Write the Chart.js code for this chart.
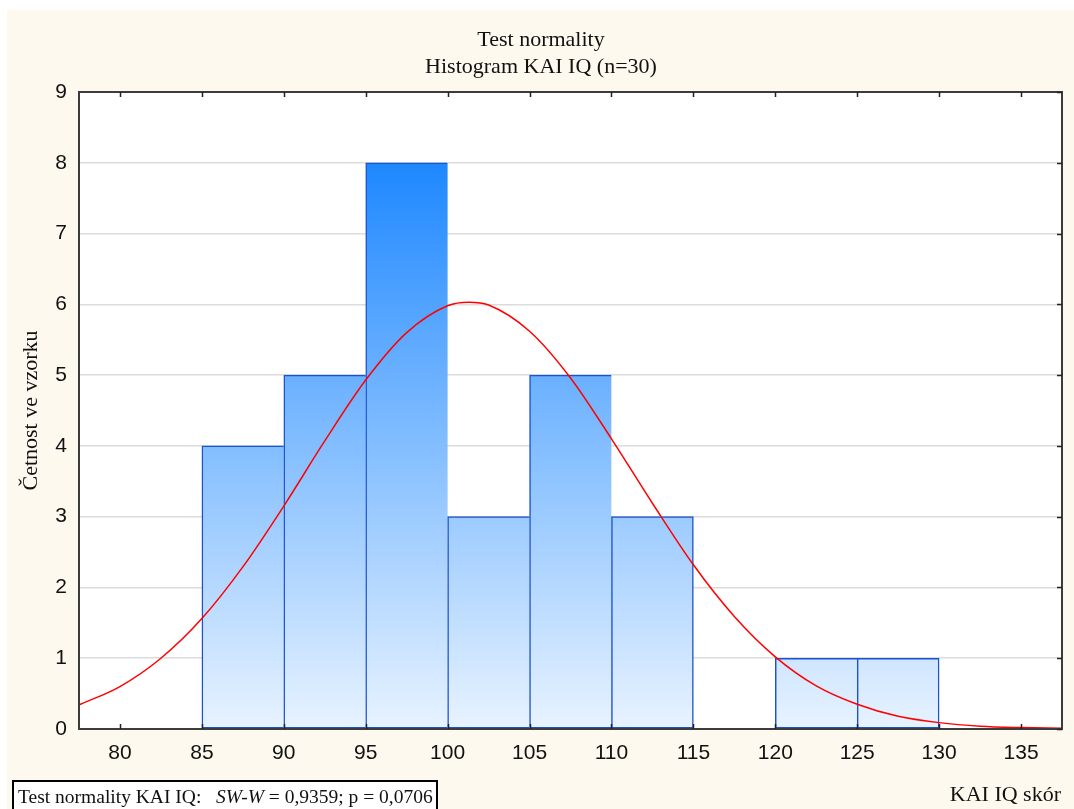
<!DOCTYPE html>
<html>
<head>
<meta charset="utf-8">
<script src="https://cdn.jsdelivr.net/npm/chart.js@4.4.1/dist/chart.umd.min.js"></script>
<style>
  html, body { margin: 0; padding: 0; background: #ffffff; }
  #wrap { width: 1074px; height: 809px; position: relative; }
</style>
</head>
<body>
<div id="wrap"><canvas id="hist" width="1074" height="809"></canvas></div>
<script>
// histogram bins (start of each 5-point bin) and counts
const binStart = [85, 90, 95, 100, 105, 110, 120, 125];
const counts = [4, 5, 8, 3, 5, 3, 1, 1];
const binWidth = 5;

// fitted normal curve
const curveX = [77.5, 80, 82.5, 85, 87.5, 90, 92.5, 95, 97.5, 100, 101.3, 102.5, 105, 107.5, 110,
                112.5, 115, 117.5, 120, 122.5, 125, 127.5, 130, 132.5, 135, 137.5];
const curveY = [0.34, 0.60, 1.00, 1.56, 2.29, 3.15, 4.07, 4.93, 5.60, 5.98, 6.03, 5.99, 5.62, 4.96, 4.10,
                3.19, 2.32, 1.59, 1.02, 0.61, 0.35, 0.18, 0.09, 0.04, 0.02, 0.01];

const xTicks = [80, 85, 90, 95, 100, 105, 110, 115, 120, 125, 130, 135];
const yTicks = [0, 1, 2, 3, 4, 5, 6, 7, 8, 9];

const titleLines = ['Test normality', 'Histogram KAI IQ (n=30)'];
const xTitle = 'KAI IQ skór';
const yTitle = 'Četnost ve vzorku';
const noteLabel = 'Test normality KAI IQ:   ';
const noteStat = 'SW-W';
const noteRest = ' = 0,9359; p = 0,0706';

const serif = '"Liberation Serif", "Times New Roman", serif';
const sans = '"Liberation Sans", Arial, sans-serif';

const barData = binStart.map((s, i) => ({ x: s + binWidth / 2, y: counts[i] }));
const lineData = curveX.map((x, i) => ({ x: x, y: curveY[i] }));

// cream page, frame, inner ticks, titles and the note box
const decor = {
    id: 'decor',
    beforeDraw(chart) {
        const c = chart.ctx;
        c.save();
        c.fillStyle = '#ffffff';
        c.fillRect(0, 0, chart.width, chart.height);
        c.fillStyle = '#fef9ef';
        c.fillRect(7, 10, chart.width - 7, chart.height - 10);
        const a = chart.chartArea;
        c.fillStyle = '#ffffff';
        c.fillRect(a.left, a.top, a.right - a.left, a.bottom - a.top);
        c.restore();
    },
    afterDraw(chart) {
        const c = chart.ctx;
        const a = chart.chartArea;
        const xs = chart.scales.x, ys = chart.scales.y;
        c.save();
        // frame
        c.strokeStyle = '#3c3c3c';
        c.lineWidth = 2;
        c.strokeRect(a.left, a.top, a.right - a.left, a.bottom - a.top);
        // inner tick marks
        c.lineWidth = 1.5;
        c.strokeStyle = '#222';
        c.beginPath();
        xTicks.forEach(v => {
            const px = Math.round(xs.getPixelForValue(v)) + 0.5;
            c.moveTo(px, a.bottom); c.lineTo(px, a.bottom - 5);
            c.moveTo(px, a.top); c.lineTo(px, a.top + 5);
        });
        yTicks.forEach(v => {
            const py = Math.round(ys.getPixelForValue(v)) + 0.5;
            c.moveTo(a.right, py); c.lineTo(a.right - 5, py);
        });
        c.stroke();

        // titles
        c.fillStyle = '#111';
        c.textAlign = 'center';
        c.textBaseline = 'alphabetic';
        c.font = '22px ' + serif;
        c.fillText(titleLines[0], 541, 46);
        c.fillText(titleLines[1], 541, 73);

        // axis titles
        c.textAlign = 'right';
        c.fillText(xTitle, 1061, 801);
        c.save();
        c.translate(37, (a.top + a.bottom) / 2);
        c.rotate(-Math.PI / 2);
        c.textAlign = 'center';
        c.fillText(yTitle, 0, 0);
        c.restore();

        // note box
        c.fillStyle = '#ffffff';
        c.fillRect(13, 781, 424, 30);
        c.strokeStyle = '#000';
        c.lineWidth = 2;
        c.strokeRect(13, 781, 424, 30);
        c.fillStyle = '#111';
        c.textAlign = 'left';
        c.font = '19.5px ' + serif;
        let tx = 18;
        c.fillText(noteLabel, tx, 803);
        tx += c.measureText(noteLabel).width;
        c.font = 'italic 19.5px ' + serif;
        c.fillText(noteStat, tx, 803);
        tx += c.measureText(noteStat).width;
        c.font = '19.5px ' + serif;
        c.fillText(noteRest, tx, 803);
        c.restore();
    }
};

function barGradient(context) {
    const chart = context.chart;
    if (!chart.chartArea) return '#80bfff';
    const ys = chart.scales.y;
    const g = chart.ctx.createLinearGradient(0, ys.getPixelForValue(0), 0, ys.getPixelForValue(8));
    g.addColorStop(0, '#e8f3ff');
    g.addColorStop(1, '#1e88ff');
    return g;
}

// skip the right edge when the next bin sits right against this one, so shared edges are one line
function barBorder(context) {
    const i = context.dataIndex;
    const joined = i + 1 < binStart.length && binStart[i + 1] === binStart[i] + binWidth;
    return { top: 1.5, left: 1.5, bottom: 1.5, right: joined ? 0 : 1.5 };
}

new Chart(document.getElementById('hist'), {
    data: {
        datasets: [
            {
                type: 'line',
                data: lineData,
                borderColor: '#ff0000',
                borderWidth: 1.5,
                pointRadius: 0,
                cubicInterpolationMode: 'monotone',
                fill: false,
                order: 0
            },
            {
                type: 'bar',
                data: barData,
                backgroundColor: barGradient,
                borderColor: '#1b52d0',
                borderWidth: barBorder,
                borderSkipped: false,
                barPercentage: 1,
                categoryPercentage: 1,
                order: 1
            }
        ]
    },
    plugins: [decor],
    options: {
        responsive: false,
        animation: false,
        layout: { padding: { top: 92, left: 14, right: 12, bottom: 30 } },
        plugins: {
            legend: { display: false },
            tooltip: { enabled: false }
        },
        scales: {
            x: {
                type: 'linear',
                offset: false,
                min: 77.5,
                max: 137.5,
                afterBuildTicks: s => { s.ticks = xTicks.map(v => ({ value: v })); },
                afterFit: s => { s.height = 50; },
                grid: { display: false, drawTicks: false, offset: false },
                border: { display: false },
                ticks: { color: '#111', font: { family: sans, size: 21 }, padding: 12, maxRotation: 0 }
            },
            y: {
                min: 0,
                max: 9,
                afterBuildTicks: s => { s.ticks = yTicks.map(v => ({ value: v })); },
                afterFit: s => { s.width = 65; },
                grid: {
                    drawTicks: false,
                    color: c => (c.tick && (c.tick.value === 0 || c.tick.value === 9)) ? 'rgba(0,0,0,0)' : '#dcdcdc',
                    lineWidth: 1.5
                },
                border: { display: false },
                ticks: { color: '#111', font: { family: sans, size: 21 }, padding: 12 }
            }
        }
    }
});
</script>
</body>
</html>
